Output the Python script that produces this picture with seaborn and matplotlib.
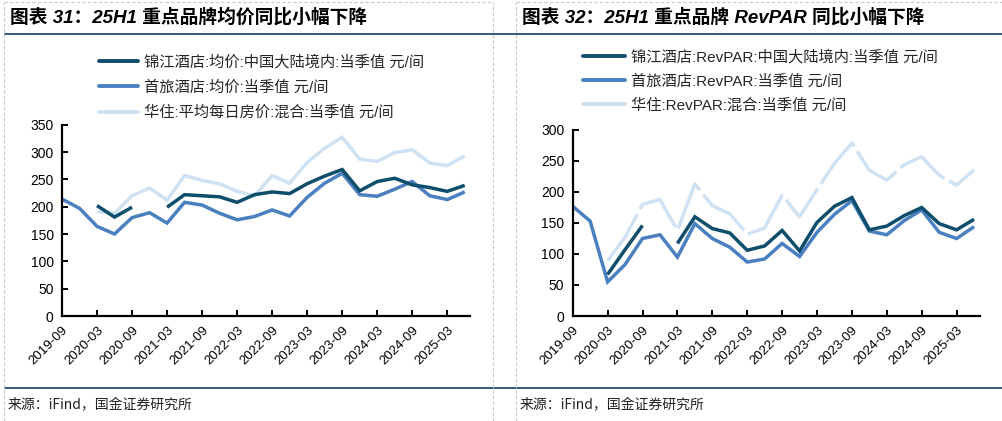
import numpy as np
import pandas as pd
import matplotlib
matplotlib.use("Agg")
import matplotlib.pyplot as plt
import seaborn as sns
from matplotlib.lines import Line2D

sns.set_theme(style="white")
plt.rcParams['font.family'] = ['Liberation Sans', 'Noto Sans CJK SC', 'DejaVu Sans']

# ---------------- data ----------------
quarters = ['2019-09', '2019-12', '2020-03', '2020-06', '2020-09', '2020-12',
            '2021-03', '2021-06', '2021-09', '2021-12', '2022-03', '2022-06',
            '2022-09', '2022-12', '2023-03', '2023-06', '2023-09', '2023-12',
            '2024-03', '2024-06', '2024-09', '2024-12', '2025-03', '2025-06']
tick_labels = quarters[::2]
nan = np.nan

# left: ADR (元/间)
jj_adr = [nan, nan, 202, 181, 199, nan, 199, 222, 220, 218, 208, 222,
          227, 224, 242, 256, 268, 229, 246, 252, 240, 235, 228, 239]
sl_adr = [214, 197, 164, 150, 180, 189, 170, 208, 203, 188, 176, 182,
          194, 183, 217, 243, 261, 222, 219, 232, 246, 220, 213, 227]
hz_adr = [nan, nan, 191, 188, 220, 234, 212, 257, 248, 242, 228, 220,
          257, 243, 281, 307, 327, 287, 283, 299, 304, 280, 275, 293]

# right: RevPAR (元/间)
jj_rev = [nan, nan, 67, 107, 146, nan, 117, 160, 141, 134, 106, 113,
          138, 105, 151, 177, 191, 139, 145, 162, 175, 149, 139, 156]
sl_rev = [177, 153, 55, 83, 125, 131, 95, 149, 125, 111, 87, 92,
          117, 96, 135, 164, 186, 137, 131, 154, 171, 135, 125, 144]
hz_rev = [nan, nan, 89, 127, 180, 188, 138, 213, 178, 165, 132, 142,
          195, 160, 204, 246, 279, 235, 219, 244, 257, 227, 211, 236]

left_labels = ['锦江酒店:均价:中国大陆境内:当季值 元/间',
               '首旅酒店:均价:当季值 元/间',
               '华住:平均每日房价:混合:当季值 元/间']
right_labels = ['锦江酒店:RevPAR:中国大陆境内:当季值 元/间',
                '首旅酒店:RevPAR:当季值 元/间',
                '华住:RevPAR:混合:当季值 元/间']
title_left = '图表 31：25H1 重点品牌均价同比小幅下降'
title_right = '图表 32：25H1 重点品牌 RevPAR 同比小幅下降'
source = '来源：iFind，国金证券研究所'

C_DARK = '#0e4d6c'
C_MID = '#4a80c0'
C_LIGHT = '#cfe2f3'
C_RULE = '#1b4f6e'
LIGHT_DASH = (0, (16, 1.6))

W, H = 1003, 421
fig = plt.figure(figsize=(W / 100, H / 100), dpi=100)


def px_rect(x0, x1, ytop, ybot):
    return [x0 / W, 1 - ybot / H, (x1 - x0) / W, (ybot - ytop) / H]


def draw_series(ax, values, color, lw=2.5, ls='-', zorder=2):
    df = pd.DataFrame({'x': np.arange(len(values)), 'y': values})
    valid = df['y'].notna()
    seg = (valid != valid.shift()).cumsum()
    for _, sub in df[valid].groupby(seg[valid]):
        sns.lineplot(data=sub, x='x', y='y', ax=ax, color=color, lw=lw,
                     linestyle=ls, zorder=zorder, solid_capstyle='butt',
                     dash_capstyle='butt', solid_joinstyle='miter', legend=False)


def style_axis(ax, ymax, ystep, xmax):
    ax.set_xlim(0, xmax)
    ax.set_ylim(0, ymax)
    ax.set_yticks(np.arange(0, ymax + 1, ystep))
    ax.set_xticks(np.arange(0, len(quarters), 2))
    ax.set_xticklabels(tick_labels, rotation=45, ha='right', rotation_mode='anchor',
                       fontsize=9.5, family=['Liberation Sans'])
    for lab in ax.get_yticklabels():
        lab.set_fontsize(10)
        lab.set_family(['Liberation Sans'])
    ax.set_xlabel('')
    ax.set_ylabel('')
    for s in ['top', 'right']:
        ax.spines[s].set_visible(False)
    for s in ['left', 'bottom']:
        ax.spines[s].set_color('black')
        ax.spines[s].set_linewidth(1.6)
    ax.tick_params(axis='both', direction='in', length=4, width=1.4, color='black',
                   labelcolor='black', left=True, bottom=True)
    ax.tick_params(axis='y', pad=6)
    ax.tick_params(axis='x', pad=6)
    ax.set_facecolor('none')


# left panel
axL = fig.add_axes(px_rect(62, 470, 124.7, 316))
draw_series(axL, hz_adr, C_LIGHT, zorder=1)
draw_series(axL, sl_adr, C_MID, zorder=2)
draw_series(axL, jj_adr, C_DARK, zorder=3)
style_axis(axL, 350, 50, 23.3)

# right panel
axR = fig.add_axes(px_rect(572.7, 980, 130, 316))
draw_series(axR, hz_rev, C_LIGHT, ls=LIGHT_DASH, zorder=1)
draw_series(axR, sl_rev, C_MID, zorder=2)
draw_series(axR, jj_rev, C_DARK, zorder=3)
style_axis(axR, 300, 50, 23.34)

# legends
def add_legend(labels, x, ytop, hlen, spacing):
    handles = [Line2D([], [], color=C_DARK, lw=2.8),
               Line2D([], [], color=C_MID, lw=2.8),
               Line2D([], [], color=C_LIGHT, lw=2.8)]
    fig.legend(handles, labels, loc='upper left',
               bbox_to_anchor=(x / W, 1 - ytop / H), bbox_transform=fig.transFigure,
               frameon=False, borderpad=0, borderaxespad=0, handlelength=hlen,
               handletextpad=0.4, labelspacing=spacing,
               prop={'family': ['Liberation Sans', 'Noto Sans CJK SC'], 'size': 11})

add_legend(left_labels, 99, 55, 2.55, 0.70)
add_legend(right_labels, 583, 50, 2.75, 0.62)

# titles
title_font = dict(family=['Liberation Sans', 'Noto Sans CJK SC'], fontsize=13.5,
                  fontweight='bold', fontstyle='italic', color='black', va='center', ha='left')
fig.text(10 / W, 1 - 17 / H, title_left, **title_font)
fig.text(522 / W, 1 - 17 / H, title_right, **title_font)

# rules
fig.add_artist(Line2D([5 / W, 1], [1 - 34 / H] * 2, color=C_RULE, lw=1.3))
fig.add_artist(Line2D([5 / W, 1], [1 - 388 / H] * 2, color=C_RULE, lw=1.3))

# dashed frame lines
dash_kw = dict(color='#c8c8c8', lw=0.8, linestyle=(0, (3, 2)))
for xv in [4, 493, 516]:
    fig.add_artist(Line2D([xv / W] * 2, [0, 1 - 2 / H], **dash_kw))
fig.add_artist(Line2D([4 / W, 493 / W], [1 - 2 / H] * 2, **dash_kw))
fig.add_artist(Line2D([516 / W, 1], [1 - 2 / H] * 2, **dash_kw))

# source
src_font = dict(family=['Noto Sans CJK SC', 'Liberation Sans'], fontsize=10,
                color='#222222', va='center', ha='left')
fig.text(8 / W, 1 - 405 / H, source, **src_font)
fig.text(520 / W, 1 - 405 / H, source, **src_font)

fig.savefig('out.png', dpi=100)
